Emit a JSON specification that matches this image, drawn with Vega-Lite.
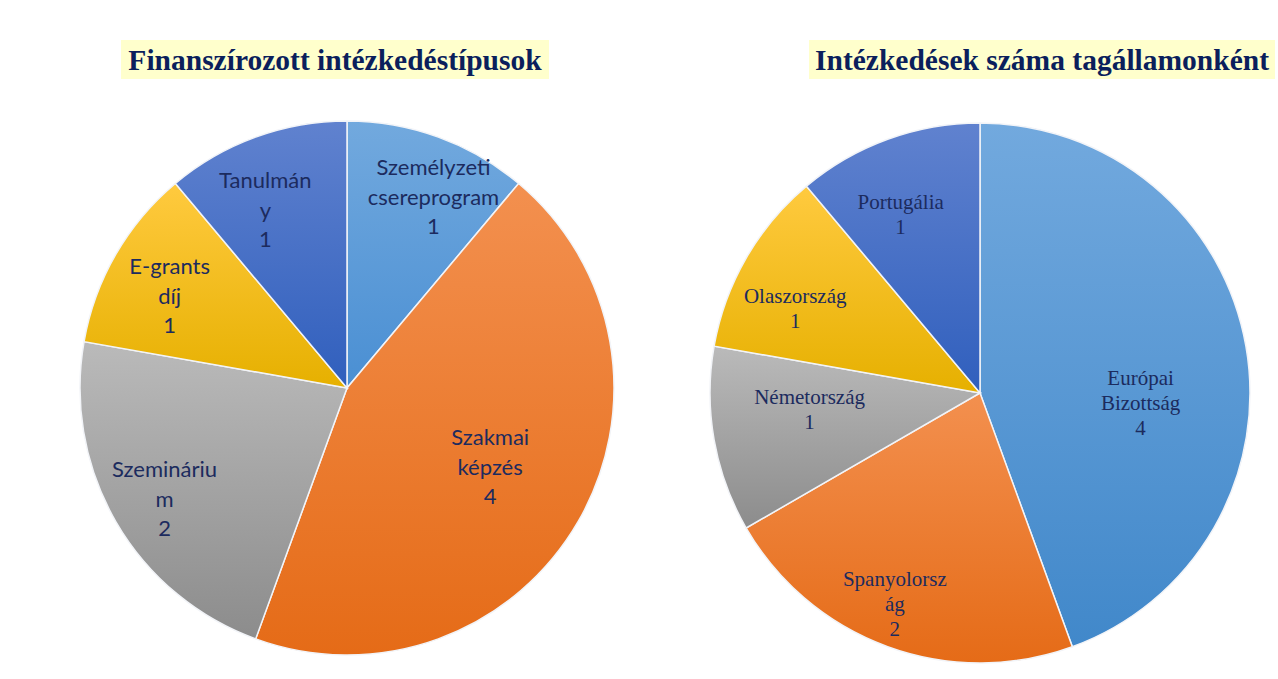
{
  "$schema": "https://vega.github.io/schema/vega-lite/v6.json",
  "background": "white",
  "padding": {"left": 77, "top": 40, "right": 0, "bottom": 0},
  "config": {"view": {"stroke": null}},
  "datasets": {
    "left": [
      {"cat": "Személyzeti csereprogram", "lab": "Személyzeti\ncsereprogram", "n": 1, "ord": 1},
      {"cat": "Szakmai képzés", "lab": "Szakmai\nképzés", "n": 4, "ord": 2},
      {"cat": "Szeminárium", "lab": "Szemináriu\nm", "n": 2, "ord": 3},
      {"cat": "E-grants díj", "lab": "E-grants\ndíj", "n": 1, "ord": 4},
      {"cat": "Tanulmány", "lab": "Tanulmán\ny", "n": 1, "ord": 5}
    ],
    "right": [
      {"cat": "Európai Bizottság", "lab": "Európai\nBizottság", "n": 4, "ord": 1},
      {"cat": "Spanyolország", "lab": "Spanyolorsz\nág", "n": 2, "ord": 2},
      {"cat": "Németország", "lab": "Németország", "n": 1, "ord": 3},
      {"cat": "Olaszország", "lab": "Olaszország", "n": 1, "ord": 4},
      {"cat": "Portugália", "lab": "Portugália", "n": 1, "ord": 5}
    ]
  },
  "spacing": 28,
  "resolve": {"scale": {"radius": "independent", "theta": "independent", "xOffset": "independent", "yOffset": "independent"}},
  "vconcat": [
    {
      "spacing": 260,
      "bounds": "flush",
      "hconcat": [
        {
          "width": 428, "height": 39,
          "view": {"fill": "#FFFFCC", "stroke": null},
          "data": {"values": [{"t": "Finanszírozott intézkedéstípusok"}]},
          "mark": {"type": "text", "font": "Liberation Serif", "fontSize": 29.5, "fontWeight": "bold", "color": "#0B1F5C", "baseline": "middle", "align": "center", "dy": 1},
          "encoding": {"text": {"field": "t"}}
        },
        {
          "width": 466, "height": 39,
          "view": {"fill": "#FFFFCC", "stroke": null},
          "data": {"values": [{"t": "Intézkedések száma tagállamonként"}]},
          "mark": {"type": "text", "font": "Liberation Serif", "fontSize": 29.5, "fontWeight": "bold", "color": "#0B1F5C", "baseline": "middle", "align": "center", "dy": 1},
          "encoding": {"text": {"field": "t"}}
        }
      ]
    },
    {
      "spacing": 137,
      "bounds": "flush",
      "resolve": {"scale": {"radius": "independent", "theta": "independent", "xOffset": "independent", "yOffset": "independent"}},
      "hconcat": [
        {
          "width": 452, "height": 562,
          "data": {"name": "left"},
          "transform": [
            {"stack": "n", "sort": [{"field": "ord", "order": "ascending"}], "as": ["a0", "a1"]},
            {"calculate": "(datum.a0 + datum.a1) / 2", "as": "amid"},
            {"calculate": "datum.lab + '\\n' + datum.n", "as": "txt"}
          ],
          "layer": [
            {
              "transform": [{"filter": "datum.ord === 1"}],
              "mark": {"type": "arc", "radius": 267, "stroke": "#F2F4F8", "strokeWidth": 1.5,
                "color": {"gradient": "linear", "x1": 0, "y1": 0, "x2": 0, "y2": 1, "stops": [{"offset": 0, "color": "#72A9DE"}, {"offset": 1, "color": "#4A8FD3"}]}},
              "encoding": {"theta": {"field": "a0", "type": "quantitative", "scale": {"domain": [0, 9]}}, "theta2": {"field": "a1"}}
            },
            {
              "transform": [{"filter": "datum.ord === 2"}],
              "mark": {"type": "arc", "radius": 267, "stroke": "#F2F4F8", "strokeWidth": 1.5,
                "color": {"gradient": "linear", "x1": 0, "y1": 0, "x2": 0, "y2": 1, "stops": [{"offset": 0, "color": "#F3904F"}, {"offset": 1, "color": "#E56B17"}]}},
              "encoding": {"theta": {"field": "a0", "type": "quantitative", "scale": {"domain": [0, 9]}}, "theta2": {"field": "a1"}}
            },
            {
              "transform": [{"filter": "datum.ord === 3"}],
              "mark": {"type": "arc", "radius": 267, "stroke": "#F2F4F8", "strokeWidth": 1.5,
                "color": {"gradient": "linear", "x1": 0, "y1": 0, "x2": 0, "y2": 1, "stops": [{"offset": 0, "color": "#BABABA"}, {"offset": 1, "color": "#8C8C8C"}]}},
              "encoding": {"theta": {"field": "a0", "type": "quantitative", "scale": {"domain": [0, 9]}}, "theta2": {"field": "a1"}}
            },
            {
              "transform": [{"filter": "datum.ord === 4"}],
              "mark": {"type": "arc", "radius": 267, "stroke": "#F2F4F8", "strokeWidth": 1.5,
                "color": {"gradient": "linear", "x1": 0, "y1": 0, "x2": 0, "y2": 1, "stops": [{"offset": 0, "color": "#FFCA3F"}, {"offset": 1, "color": "#E6B000"}]}},
              "encoding": {"theta": {"field": "a0", "type": "quantitative", "scale": {"domain": [0, 9]}}, "theta2": {"field": "a1"}}
            },
            {
              "transform": [{"filter": "datum.ord === 5"}],
              "mark": {"type": "arc", "radius": 267, "stroke": "#F2F4F8", "strokeWidth": 1.5,
                "color": {"gradient": "linear", "x1": 0, "y1": 0, "x2": 0, "y2": 1, "stops": [{"offset": 0, "color": "#6082CF"}, {"offset": 1, "color": "#305FBD"}]}},
              "encoding": {"theta": {"field": "a0", "type": "quantitative", "scale": {"domain": [0, 9]}}, "theta2": {"field": "a1"}}
            },
            {
              "mark": {"type": "text", "font": "Lato", "fontSize": 22, "lineBreak": "\n", "lineHeight": 29.5, "baseline": "middle", "align": "center", "dy": -29.5},
              "encoding": {
                "theta": {"field": "amid", "type": "quantitative", "scale": {"domain": [0, 9]}},
                "text": {"field": "txt"},
                "color": {"value": "#1C2B5E"},
                "radius": {"field": "ord", "type": "quantitative", "scale": {"type": "linear", "domain": [1, 2, 3, 4, 5], "range": [209, 163, 213, 199, 195], "zero": false, "nice": false}},
                "xOffset": {"field": "ord", "type": "quantitative", "scale": {"type": "linear", "domain": [1, 2, 3, 4, 5], "range": [15, 2, 2, -5, -15], "zero": false, "nice": false}},
                "yOffset": {"field": "ord", "type": "quantitative", "scale": {"type": "linear", "domain": [1, 2, 3, 4, 5], "range": [6, -2, 5, 8, 6], "zero": false, "nice": false}}
              }
            }
          ]
        },
        {
          "width": 540, "height": 572,
          "data": {"name": "right"},
          "transform": [
            {"stack": "n", "sort": [{"field": "ord", "order": "ascending"}], "as": ["a0", "a1"]},
            {"calculate": "(datum.a0 + datum.a1) / 2", "as": "amid"},
            {"calculate": "datum.lab + '\\n' + datum.n", "as": "txt"}
          ],
          "layer": [
            {
              "transform": [{"filter": "datum.ord === 1"}],
              "mark": {"type": "arc", "radius": 270, "stroke": "#F2F4F8", "strokeWidth": 1.5,
                "color": {"gradient": "linear", "x1": 0, "y1": 0, "x2": 0, "y2": 1, "stops": [{"offset": 0, "color": "#72A9DE"}, {"offset": 1, "color": "#4188CA"}]}},
              "encoding": {"theta": {"field": "a0", "type": "quantitative", "scale": {"domain": [0, 9]}}, "theta2": {"field": "a1"}}
            },
            {
              "transform": [{"filter": "datum.ord === 2"}],
              "mark": {"type": "arc", "radius": 270, "stroke": "#F2F4F8", "strokeWidth": 1.5,
                "color": {"gradient": "linear", "x1": 0, "y1": 0, "x2": 0, "y2": 1, "stops": [{"offset": 0, "color": "#F3904F"}, {"offset": 1, "color": "#E56B17"}]}},
              "encoding": {"theta": {"field": "a0", "type": "quantitative", "scale": {"domain": [0, 9]}}, "theta2": {"field": "a1"}}
            },
            {
              "transform": [{"filter": "datum.ord === 3"}],
              "mark": {"type": "arc", "radius": 270, "stroke": "#F2F4F8", "strokeWidth": 1.5,
                "color": {"gradient": "linear", "x1": 0, "y1": 0, "x2": 0, "y2": 1, "stops": [{"offset": 0, "color": "#BABABA"}, {"offset": 1, "color": "#8C8C8C"}]}},
              "encoding": {"theta": {"field": "a0", "type": "quantitative", "scale": {"domain": [0, 9]}}, "theta2": {"field": "a1"}}
            },
            {
              "transform": [{"filter": "datum.ord === 4"}],
              "mark": {"type": "arc", "radius": 270, "stroke": "#F2F4F8", "strokeWidth": 1.5,
                "color": {"gradient": "linear", "x1": 0, "y1": 0, "x2": 0, "y2": 1, "stops": [{"offset": 0, "color": "#FFCA3F"}, {"offset": 1, "color": "#E6B000"}]}},
              "encoding": {"theta": {"field": "a0", "type": "quantitative", "scale": {"domain": [0, 9]}}, "theta2": {"field": "a1"}}
            },
            {
              "transform": [{"filter": "datum.ord === 5"}],
              "mark": {"type": "arc", "radius": 270, "stroke": "#F2F4F8", "strokeWidth": 1.5,
                "color": {"gradient": "linear", "x1": 0, "y1": 0, "x2": 0, "y2": 1, "stops": [{"offset": 0, "color": "#6082CF"}, {"offset": 1, "color": "#305FBD"}]}},
              "encoding": {"theta": {"field": "a0", "type": "quantitative", "scale": {"domain": [0, 9]}}, "theta2": {"field": "a1"}}
            },
            {
              "mark": {"type": "text", "font": "Liberation Serif", "fontSize": 21, "lineBreak": "\n", "lineHeight": 25, "baseline": "middle", "align": "center", "dy": -12.5},
              "encoding": {
                "theta": {"field": "amid", "type": "quantitative", "scale": {"domain": [0, 9]}},
                "text": {"field": "txt"},
                "color": {"value": "#1C2B5E"},
                "opacity": {"condition": {"test": "datum.ord === 1", "value": 0}, "value": 1},
                "radius": {"field": "ord", "type": "quantitative", "scale": {"type": "linear", "domain": [1, 2, 3, 4, 5], "range": [160, 214, 171, 203, 197], "zero": false, "nice": false}},
                "xOffset": {"field": "ord", "type": "quantitative", "scale": {"type": "linear", "domain": [1, 2, 3, 4, 5], "range": [3, -12, -2, -9, -12], "zero": false, "nice": false}},
                "yOffset": {"field": "ord", "type": "quantitative", "scale": {"type": "linear", "domain": [1, 2, 3, 4, 5], "range": [1, -2, -12, 18, 7.5], "zero": false, "nice": false}}
              }
            },
            {
              "mark": {"type": "text", "font": "Liberation Serif", "fontSize": 21, "lineBreak": "\n", "lineHeight": 25, "baseline": "middle", "align": "center", "dy": 13},
              "encoding": {
                "theta": {"field": "amid", "type": "quantitative", "scale": {"domain": [0, 9]}},
                "text": {"field": "txt"},
                "color": {"value": "#1C2B5E"},
                "opacity": {"condition": {"test": "datum.ord === 1", "value": 1}, "value": 0},
                "radius": {"field": "ord", "type": "quantitative", "scale": {"type": "linear", "domain": [1, 2, 3, 4, 5], "range": [160, 214, 171, 203, 197], "zero": false, "nice": false}},
                "xOffset": {"field": "ord", "type": "quantitative", "scale": {"type": "linear", "domain": [1, 2, 3, 4, 5], "range": [3, -12, -2, -9, -12], "zero": false, "nice": false}},
                "yOffset": {"field": "ord", "type": "quantitative", "scale": {"type": "linear", "domain": [1, 2, 3, 4, 5], "range": [1, -2, -12, 18, 7.5], "zero": false, "nice": false}}
              }
            }
          ]
        }
      ]
    }
  ]
}
